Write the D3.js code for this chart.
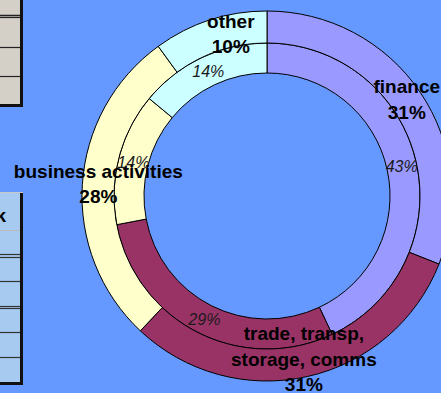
<!DOCTYPE html>
<html>
<head>
<meta charset="utf-8">
<script src="https://cdn.jsdelivr.net/npm/d3@7"></script>
<style>
  html, body { margin: 0; padding: 0; background: #6699FF; overflow: hidden; }
  svg { display: block; }
</style>
</head>
<body>
<svg id="chart" width="441" height="393"></svg>
<script>
// Sector shares of two periods, drawn as nested rings
const categories = ["finance", "trade, transp, storage, comms", "business activities", "other"];
const outerLabels = [["finance"], ["trade, transp,", "storage, comms"], ["business activities"], ["other"]];
const outerValues = [31, 31, 28, 10];
const innerValues = [43, 29, 14, 14];
const colors = ["#9999FF", "#993366", "#FFFFCC", "#CCFFFF"];

const svg = d3.select("#chart");
const W = 441, H = 393;
svg.append("rect").attr("width", W).attr("height", H).attr("fill", "#6699FF");

// Spreadsheet fragments at the left edge
const grid = svg.append("g");
grid.append("rect").attr("x", -5).attr("y", -5).attr("width", 25).attr("height", 110).attr("fill", "#D4D0C8");
[15, 17, 47, 76].forEach(y => grid.append("line").attr("x1", -5).attr("x2", 20).attr("y1", y + 0.5).attr("y2", y + 0.5)
  .attr("stroke", "#222").attr("stroke-width", y === 15 ? 1.5 : 1.2));
grid.append("rect").attr("x", 20).attr("y", -5).attr("width", 3).attr("height", 112).attr("fill", "#111");
grid.append("rect").attr("x", -5).attr("y", 104).attr("width", 28).attr("height", 3).attr("fill", "#111");

grid.append("rect").attr("x", -5).attr("y", 192).attr("width", 25).attr("height", 190).attr("fill", "#A6CAF0");
grid.append("line").attr("x1", -5).attr("x2", 23).attr("y1", 192.5).attr("y2", 192.5).attr("stroke", "#C8C8C8");
grid.append("line").attr("x1", -5).attr("x2", 20).attr("y1", 230.5).attr("y2", 230.5).attr("stroke", "#B8B8B8");
[254, 257, 281, 306, 308, 332, 357].forEach(y => grid.append("line").attr("x1", -5).attr("x2", 20)
  .attr("y1", y + 0.5).attr("y2", y + 0.5).attr("stroke", "#333").attr("stroke-width", 1.2));
grid.append("rect").attr("x", 20).attr("y", 193).attr("width", 3).attr("height", 192).attr("fill", "#111");
grid.append("rect").attr("x", -5).attr("y", 382).attr("width", 28).attr("height", 3).attr("fill", "#111");
grid.append("text").attr("x", 6).attr("y", 222).attr("text-anchor", "end")
  .attr("font-family", "Liberation Sans, Arial, sans-serif").attr("font-weight", "bold").attr("font-size", 19)
  .attr("fill", "#000").text("k");

// Rings
const cx = 267, cy = 196;
const rHole = 123, rMid = 153, rOuter = 185;
const pie = d3.pie().sort(null).value(d => d);
const g = svg.append("g").attr("transform", `translate(${cx},${cy})`);

const innerArc = d3.arc().innerRadius(rHole).outerRadius(rMid);
const outerArc = d3.arc().innerRadius(rMid).outerRadius(rOuter);

const innerPie = pie(innerValues);
const outerPie = pie(outerValues);

g.selectAll("path.inner").data(innerPie).join("path").attr("class", "inner")
  .attr("d", innerArc).attr("fill", (d, i) => colors[i]).attr("stroke", "#000").attr("stroke-width", 1);
g.selectAll("path.outer").data(outerPie).join("path").attr("class", "outer")
  .attr("d", outerArc).attr("fill", (d, i) => colors[i]).attr("stroke", "#000").attr("stroke-width", 1);

// Inner ring percentages (italic)
g.selectAll("text.inner").data(innerPie).join("text").attr("class", "inner")
  .attr("x", d => innerArc.centroid(d)[0]).attr("y", d => innerArc.centroid(d)[1] + 6)
  .attr("text-anchor", "middle")
  .attr("font-family", "Liberation Sans, Arial, sans-serif").attr("font-style", "italic").attr("font-size", 16)
  .attr("fill", "#1a1a1a").text(d => d.value + "%");

// Outer ring category labels with percentages (bold)
const nudgeX = [0, 0, 0, 16];
const lineH = 25.5;
outerPie.forEach((d, i) => {
  const [x, y] = outerArc.centroid(d);
  const lines = outerLabels[i].concat([d.value + "%"]);
  const first = y - (lines.length - 1) * lineH / 2 + 5;
  const t = g.append("text").attr("text-anchor", "middle")
    .attr("font-family", "Liberation Sans, Arial, sans-serif").attr("font-weight", "bold").attr("font-size", 19)
    .attr("fill", "#000");
  lines.forEach((s, k) => t.append("tspan").attr("x", x + nudgeX[i]).attr("y", first + k * lineH).text(s));
});
</script>
</body>
</html>
